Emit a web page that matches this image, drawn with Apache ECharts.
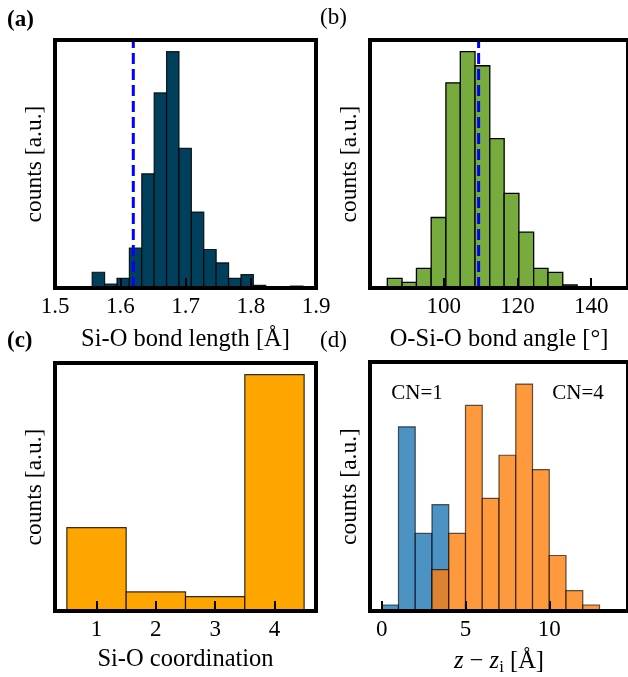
<!DOCTYPE html>
<html>
<head>
<meta charset="utf-8">
<script src="https://cdn.jsdelivr.net/npm/echarts@6/dist/echarts.min.js"></script>
<style>html,body{margin:0;padding:0;background:#fff}#c{width:628px;height:677px}</style>
</head>
<body>
<div id="c"></div>
<script>
// ---------- data ----------
// (a) Si-O bond length histogram: bin edges [Å] and counts [a.u.]
const edgesA = [1.557, 1.576, 1.595, 1.614, 1.633, 1.652, 1.671, 1.690, 1.709, 1.728, 1.747, 1.766, 1.785, 1.804, 1.823, 1.842, 1.861, 1.880];
const countsA = [47, 12, 29, 119, 341, 583, 706, 417, 227, 115, 75, 29, 40, 8, 0, 0, 6];
const refA = 1.62;
const ticksA = [1.5, 1.6, 1.7, 1.8, 1.9];

// (b) O-Si-O bond angle histogram
const edgesB = [84.7, 88.7, 92.6, 96.6, 100.6, 104.5, 108.5, 112.5, 116.4, 120.4, 124.4, 128.3, 132.3, 136.2];
const countsB = [29, 17, 59, 211, 614, 707, 665, 447, 283, 167, 59, 47, 9];
const refB = 109.47;
const ticksB = [100, 120, 140];

// (c) Si-O coordination
const coordC = [1, 2, 3, 4];
const countsC = [249, 57, 43, 706];

// (d) z - z_i histograms for CN=1 and CN=4
const edgesD1 = [0, 1, 2, 3, 4];
const countsD1 = [18, 551, 232, 318];
const edgesD4 = [3, 4, 5, 6, 7, 8, 9, 10, 11, 12, 13];
const countsD4 = [124, 232, 615, 337, 466, 679, 423, 166, 61, 18];
const ticksD = [0, 5, 10];

// ---------- helpers ----------
const FONT = '"Liberation Serif", "Times New Roman", serif';
const FS = 23;
const FN = 24.5;

function histData(edges, counts) {
  return counts.map((c, i) => [edges[i], edges[i + 1], c]);
}
function barData(cats, counts) {
  return counts.map((c, i) => [cats[i] - 0.5, cats[i] + 0.5, c]);
}
function histSeries(idx, data, fill, opacity, stroke, lw) {
  return {
    type: 'custom', xAxisIndex: idx, yAxisIndex: idx, z: 2,
    encode: { x: [0, 1], y: 2 },
    data: data,
    renderItem: function (params, api) {
      const p0 = api.coord([api.value(0), 0]);
      const p1 = api.coord([api.value(1), api.value(2)]);
      return {
        type: 'rect',
        shape: { x: p0[0], y: p1[1], width: p1[0] - p0[0], height: p0[1] - p1[1] },
        style: { fill: fill, stroke: stroke, lineWidth: lw, opacity: opacity }
      };
    }
  };
}
function refLine(idx, x, ymax) {
  return {
    type: 'line', xAxisIndex: idx, yAxisIndex: idx, z: 5,
    data: [[x, 0], [x, ymax]], symbol: 'none', silent: true,
    lineStyle: { color: '#0000ff', width: 3, type: [11, 5] }
  };
}
function xAx(idx, min, max, ticks, name, gap) {
  return {
    type: 'value', gridIndex: idx, min: min, max: max, z: 10,
    name: name, nameLocation: 'middle', nameGap: gap,
    nameTextStyle: { fontFamily: FONT, fontSize: FN, color: '#000',
      rich: { i: { fontFamily: FONT, fontSize: FN, fontStyle: 'italic', color: '#000' },
              s: { fontFamily: FONT, fontSize: 17, color: '#000', padding: [12, 0, 0, 0] } } },
    axisLine: { show: false },
    axisTick: { show: true, inside: true, length: 10, customValues: ticks, lineStyle: { color: '#000', width: 2 } },
    axisLabel: { show: true, margin: 7, customValues: ticks, fontFamily: FONT, fontSize: FS, color: '#000',
      formatter: v => String(v) },
    splitLine: { show: false }
  };
}
function yAx(idx, max) {
  return {
    type: 'value', gridIndex: idx, min: 0, max: max,
    name: 'counts [a.u.]', nameLocation: 'middle', nameGap: 8,
    nameTextStyle: { fontFamily: FONT, fontSize: 23.5, color: '#000' },
    axisLine: { show: false }, axisTick: { show: false }, axisLabel: { show: false },
    splitLine: { show: false }
  };
}
const gridBase = { show: true, borderWidth: 4, borderColor: '#000', backgroundColor: 'transparent', z: 10 };

const option = {
  animation: false,
  backgroundColor: '#fff',
  grid: [
    Object.assign({ left: 55, top: 40, width: 261, height: 248 }, gridBase),
    Object.assign({ left: 370, top: 40, width: 261, height: 248 }, gridBase),
    Object.assign({ left: 55, top: 363, width: 261, height: 248 }, gridBase),
    Object.assign({ left: 370, top: 362, width: 261, height: 249 }, gridBase)
  ],
  xAxis: [
    xAx(0, 1.5, 1.9, ticksA, 'Si-O bond length [Å]', 39),
    xAx(1, 80, 150, ticksB, 'O-Si-O bond angle [°]', 39),
    xAx(2, 0.3, 4.7, coordC, 'Si-O coordination', 36),
    xAx(3, -0.7, 14.7, ticksD, '{i|z} − {i|z}{s|i} [Å]', 36)
  ],
  yAxis: [yAx(0, 741), yAx(1, 742), yAx(2, 741), yAx(3, 745)],
  series: [
    histSeries(0, histData(edgesA, countsA), '#01405c', 1, 'rgba(0,0,0,0.85)', 1.2),
    refLine(0, refA, 741),
    histSeries(1, histData(edgesB, countsB), '#77ab3d', 1, '#000', 1.3),
    refLine(1, refB, 742),
    histSeries(2, barData(coordC, countsC), '#ffa500', 1, 'rgba(0,0,0,0.8)', 1.2),
    histSeries(3, histData(edgesD1, countsD1), '#1f77b4', 0.8, 'rgba(0,0,0,0.8)', 1.2),
    histSeries(3, histData(edgesD4, countsD4), '#ff7f0e', 0.8, 'rgba(0,0,0,0.8)', 1.2)
  ],
  graphic: [
    { type: 'text', x: 7, y: 20, style: { text: '(a)', font: 'bold 23px ' + FONT, fill: '#000', verticalAlign: 'middle', align: 'left' } },
    { type: 'text', x: 320, y: 18, style: { text: '(b)', font: '23px ' + FONT, fill: '#000', verticalAlign: 'middle', align: 'left' } },
    { type: 'text', x: 7, y: 341, style: { text: '(c)', font: 'bold 23px ' + FONT, fill: '#000', verticalAlign: 'middle', align: 'left' } },
    { type: 'text', x: 320, y: 341, style: { text: '(d)', font: '23px ' + FONT, fill: '#000', verticalAlign: 'middle', align: 'left' } },
    { type: 'text', x: 417, y: 393, z: 20, style: { text: 'CN=1', font: '21px ' + FONT, fill: '#000', verticalAlign: 'middle', align: 'center' } },
    { type: 'text', x: 578, y: 393, z: 20, style: { text: 'CN=4', font: '21px ' + FONT, fill: '#000', verticalAlign: 'middle', align: 'center' } }
  ]
};
const chart = echarts.init(document.getElementById('c'), null, { renderer: 'canvas' });
chart.setOption(option);
</script>
</body>
</html>
